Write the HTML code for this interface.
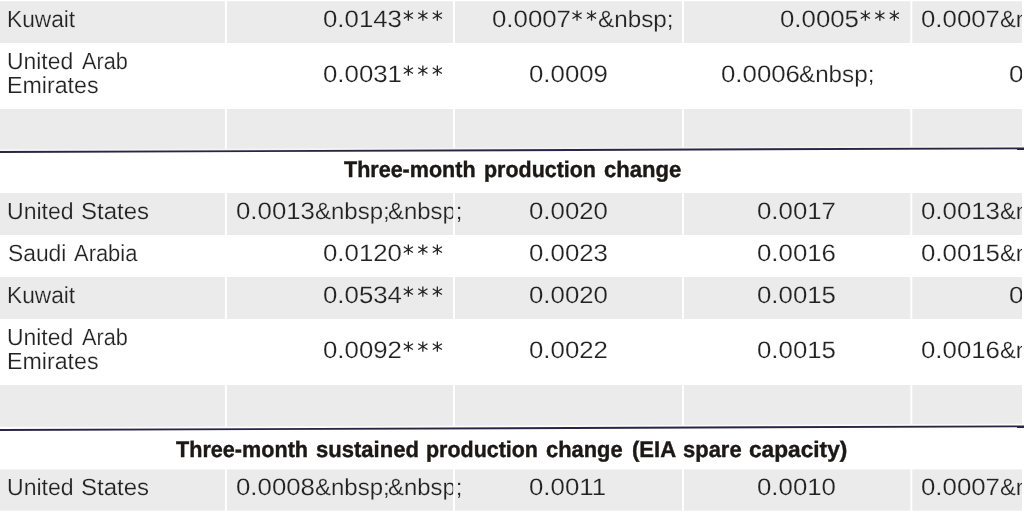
<!DOCTYPE html>
<html><head><meta charset="utf-8"><title>table</title>
<style>
html,body{margin:0;padding:0;background:#fff;}
#c{position:relative;width:1024px;height:512px;overflow:hidden;background:#fff;font-family:"Liberation Sans",sans-serif;}
svg{position:absolute;left:0;top:0;}
.r,.b,.s{position:absolute;white-space:pre;transform-origin:0 0;color:#222222;text-rendering:geometricPrecision;}
.r{font:23.4px/23px "Liberation Sans",sans-serif;}
.d{font-size:23.8px;}
.g{-webkit-text-stroke:0.2px #ebebeb;}
.w{-webkit-text-stroke:0.2px #fff;}
.b{font:bold 22.6px/23px "Liberation Sans",sans-serif;color:#1b1815;-webkit-text-stroke:0.4px #1b1815;}
.s{font:29px/29px "Liberation Sans",sans-serif;}
#clip{position:absolute;left:0;top:0;width:1021.6px;height:512px;overflow:hidden;will-change:transform;}
</style></head><body>
<div id="c">
<svg width="1024" height="512" viewBox="0 0 1024 512">
<rect x="0" y="1.2" width="224.90" height="41.80" fill="#ebebeb"/>
<rect x="226.9" y="1.2" width="226.10" height="41.80" fill="#ebebeb"/>
<rect x="455.0" y="1.2" width="227.00" height="41.80" fill="#ebebeb"/>
<rect x="684.0" y="1.2" width="226.30" height="41.80" fill="#ebebeb"/>
<rect x="912.3" y="1.2" width="109.70" height="41.80" fill="#ebebeb"/>
<rect x="0" y="109.0" width="224.90" height="40.50" fill="#ebebeb"/>
<rect x="226.9" y="109.0" width="226.10" height="40.50" fill="#ebebeb"/>
<rect x="455.0" y="109.0" width="227.00" height="40.50" fill="#ebebeb"/>
<rect x="684.0" y="109.0" width="226.30" height="40.50" fill="#ebebeb"/>
<rect x="912.3" y="109.0" width="109.70" height="40.50" fill="#ebebeb"/>
<rect x="0" y="193.0" width="224.90" height="42.00" fill="#ebebeb"/>
<rect x="226.9" y="193.0" width="226.10" height="42.00" fill="#ebebeb"/>
<rect x="455.0" y="193.0" width="227.00" height="42.00" fill="#ebebeb"/>
<rect x="684.0" y="193.0" width="226.30" height="42.00" fill="#ebebeb"/>
<rect x="912.3" y="193.0" width="109.70" height="42.00" fill="#ebebeb"/>
<rect x="0" y="277.0" width="224.90" height="42.00" fill="#ebebeb"/>
<rect x="226.9" y="277.0" width="226.10" height="42.00" fill="#ebebeb"/>
<rect x="455.0" y="277.0" width="227.00" height="42.00" fill="#ebebeb"/>
<rect x="684.0" y="277.0" width="226.30" height="42.00" fill="#ebebeb"/>
<rect x="912.3" y="277.0" width="109.70" height="42.00" fill="#ebebeb"/>
<rect x="0" y="385.0" width="224.90" height="41.80" fill="#ebebeb"/>
<rect x="226.9" y="385.0" width="226.10" height="41.80" fill="#ebebeb"/>
<rect x="455.0" y="385.0" width="227.00" height="41.80" fill="#ebebeb"/>
<rect x="684.0" y="385.0" width="226.30" height="41.80" fill="#ebebeb"/>
<rect x="912.3" y="385.0" width="109.70" height="41.80" fill="#ebebeb"/>
<rect x="0" y="469.4" width="224.90" height="41.30" fill="#ebebeb"/>
<rect x="226.9" y="469.4" width="226.10" height="41.30" fill="#ebebeb"/>
<rect x="455.0" y="469.4" width="227.00" height="41.30" fill="#ebebeb"/>
<rect x="684.0" y="469.4" width="226.30" height="41.30" fill="#ebebeb"/>
<rect x="912.3" y="469.4" width="109.70" height="41.30" fill="#ebebeb"/>
<line x1="0" y1="150.30" x2="1024" y2="146.63" stroke="#f4f4f4" stroke-width="1.7"/>
<line x1="0" y1="152.05" x2="1024" y2="148.38" stroke="#2b2545" stroke-width="1.9"/>
<line x1="0" y1="428.30" x2="1024" y2="424.58" stroke="#fdfdfd" stroke-width="1.7"/>
<line x1="0" y1="430.05" x2="1024" y2="426.33" stroke="#2b2545" stroke-width="1.9"/>
</svg>
<div id="clip">
<span class="r g" style="left:7.03px;top:8.00px;transform:scaleX(0.9703)">Kuwait</span>
<span class="r w" style="left:7.41px;top:50.00px;transform:scaleX(0.9791)">United</span>
<span class="r w" style="left:81.82px;top:50.00px;transform:scaleX(0.9275)">Arab</span>
<span class="r w" style="left:7.29px;top:74.00px;transform:scaleX(0.9915)">Emirates</span>
<span class="r g" style="left:7.03px;top:284.00px;transform:scaleX(0.9703)">Kuwait</span>
<span class="r w" style="left:7.41px;top:326.00px;transform:scaleX(0.9791)">United</span>
<span class="r w" style="left:81.82px;top:326.00px;transform:scaleX(0.9275)">Arab</span>
<span class="r w" style="left:7.29px;top:350.00px;transform:scaleX(0.9915)">Emirates</span>
<span class="r g" style="left:7.40px;top:200.00px;transform:scaleX(0.9853)">United</span>
<span class="r g" style="left:81.24px;top:200.00px;transform:scaleX(1.0255)">States</span>
<span class="r w" style="left:7.71px;top:242.00px;transform:scaleX(0.9755)">Saudi</span>
<span class="r w" style="left:74.02px;top:242.00px;transform:scaleX(0.9375)">Arabia</span>
<span class="r g" style="left:7.40px;top:476.00px;transform:scaleX(0.9853)">United</span>
<span class="r g" style="left:81.24px;top:476.00px;transform:scaleX(1.0255)">States</span>
<span class="r d g" style="left:322.85px;top:8.00px;transform:scaleX(1.0845)">0.0143</span>
<span class="r d g" style="left:491.70px;top:8.00px;transform:scaleX(1.0845)">0.0007</span>
<span class="r g" style="left:598.20px;top:8.00px;transform:scaleX(1.0364)">&amp;nbsp;</span>
<span class="r d g" style="left:779.90px;top:8.00px;transform:scaleX(1.0845)">0.0005</span>
<span class="r d g" style="left:921.40px;top:8.00px;transform:scaleX(1.0845)">0.0007</span>
<span class="r g" style="left:999.82px;top:8.00px;transform:scaleX(1.0110)">&amp;n</span>
<span class="r d w" style="left:322.85px;top:63.00px;transform:scaleX(1.0845)">0.0031</span>
<span class="r d w" style="left:529.00px;top:63.00px;transform:scaleX(1.0845)">0.0009</span>
<span class="r d w" style="left:720.70px;top:63.00px;transform:scaleX(1.0845)">0.0006</span>
<span class="r w" style="left:799.20px;top:63.00px;transform:scaleX(1.0350)">&amp;nbsp;</span>
<span class="r w" style="left:1008.58px;top:63.00px;transform:scaleX(1.1200)">0</span>
<span class="r d g" style="left:235.80px;top:200.00px;transform:scaleX(1.0845)">0.0013</span>
<span class="r g" style="left:314.51px;top:200.00px;transform:scaleX(1.0264)">&amp;nbsp;</span>
<span class="r g" style="left:388.21px;top:200.00px;transform:scaleX(1.0207)">&amp;nbsp;</span>
<span class="r d g" style="left:529.00px;top:200.00px;transform:scaleX(1.0845)">0.0020</span>
<span class="r d g" style="left:757.40px;top:200.00px;transform:scaleX(1.0845)">0.0017</span>
<span class="r d g" style="left:921.40px;top:200.00px;transform:scaleX(1.0845)">0.0013</span>
<span class="r g" style="left:999.82px;top:200.00px;transform:scaleX(1.0110)">&amp;n</span>
<span class="r d w" style="left:322.85px;top:242.00px;transform:scaleX(1.0845)">0.0120</span>
<span class="r d w" style="left:529.00px;top:242.00px;transform:scaleX(1.0845)">0.0023</span>
<span class="r d w" style="left:757.40px;top:242.00px;transform:scaleX(1.0845)">0.0016</span>
<span class="r d w" style="left:921.40px;top:242.00px;transform:scaleX(1.0845)">0.0015</span>
<span class="r w" style="left:999.82px;top:242.00px;transform:scaleX(1.0110)">&amp;n</span>
<span class="r d g" style="left:322.85px;top:284.00px;transform:scaleX(1.0845)">0.0534</span>
<span class="r d g" style="left:529.00px;top:284.00px;transform:scaleX(1.0845)">0.0020</span>
<span class="r d g" style="left:757.40px;top:284.00px;transform:scaleX(1.0845)">0.0015</span>
<span class="r g" style="left:1008.58px;top:284.00px;transform:scaleX(1.1200)">0</span>
<span class="r d w" style="left:322.85px;top:339.00px;transform:scaleX(1.0845)">0.0092</span>
<span class="r d w" style="left:529.00px;top:339.00px;transform:scaleX(1.0845)">0.0022</span>
<span class="r d w" style="left:757.40px;top:339.00px;transform:scaleX(1.0845)">0.0015</span>
<span class="r d w" style="left:921.40px;top:339.00px;transform:scaleX(1.0845)">0.0016</span>
<span class="r w" style="left:999.82px;top:339.00px;transform:scaleX(1.0110)">&amp;n</span>
<span class="r d g" style="left:235.80px;top:476.00px;transform:scaleX(1.0845)">0.0008</span>
<span class="r g" style="left:314.51px;top:476.00px;transform:scaleX(1.0264)">&amp;nbsp;</span>
<span class="r g" style="left:388.21px;top:476.00px;transform:scaleX(1.0207)">&amp;nbsp;</span>
<span class="r d g" style="left:529.00px;top:476.00px;transform:scaleX(1.0845)">0.0011</span>
<span class="r d g" style="left:757.40px;top:476.00px;transform:scaleX(1.0845)">0.0010</span>
<span class="r d g" style="left:921.40px;top:476.00px;transform:scaleX(1.0845)">0.0007</span>
<span class="r g" style="left:999.82px;top:476.00px;transform:scaleX(1.0110)">&amp;n</span>
<span class="b" style="left:344.13px;top:158.00px;transform:scaleX(0.9528)">Three-month</span>
<span class="b" style="left:483.84px;top:158.00px;transform:scaleX(0.9489)">production</span>
<span class="b" style="left:603.68px;top:158.00px;transform:scaleX(0.9770)">change</span>
<span class="b" style="left:176.03px;top:438.00px;transform:scaleX(0.9565)">Three-month</span>
<span class="b" style="left:316.13px;top:438.00px;transform:scaleX(0.9753)">sustained</span>
<span class="b" style="left:426.34px;top:438.00px;transform:scaleX(0.9489)">production</span>
<span class="b" style="left:546.39px;top:438.00px;transform:scaleX(0.9680)">change</span>
<span class="b" style="left:631.81px;top:438.00px;transform:scaleX(0.9770)">(EIA</span>
<span class="b" style="left:683.13px;top:438.00px;transform:scaleX(0.9720)">spare</span>
<span class="b" style="left:749.37px;top:438.00px;transform:scaleX(1.0035)">capacity)</span>
<svg width="1024" height="512" viewBox="0 0 1024 512">
<path d="M408.35 10.50V20.80M403.75 12.75L412.95 18.55M403.75 18.55L412.95 12.75" stroke="#262626" stroke-width="1.3" fill="none"/>
<path d="M422.85 10.50V20.80M418.25 12.75L427.45 18.55M418.25 18.55L427.45 12.75" stroke="#262626" stroke-width="1.3" fill="none"/>
<path d="M437.35 10.50V20.80M432.75 12.75L441.95 18.55M432.75 18.55L441.95 12.75" stroke="#262626" stroke-width="1.3" fill="none"/>
<path d="M577.05 10.50V20.80M572.45 12.75L581.65 18.55M572.45 18.55L581.65 12.75" stroke="#262626" stroke-width="1.3" fill="none"/>
<path d="M591.55 10.50V20.80M586.95 12.75L596.15 18.55M586.95 18.55L596.15 12.75" stroke="#262626" stroke-width="1.3" fill="none"/>
<path d="M865.35 10.50V20.80M860.75 12.75L869.95 18.55M860.75 18.55L869.95 12.75" stroke="#262626" stroke-width="1.3" fill="none"/>
<path d="M879.85 10.50V20.80M875.25 12.75L884.45 18.55M875.25 18.55L884.45 12.75" stroke="#262626" stroke-width="1.3" fill="none"/>
<path d="M894.35 10.50V20.80M889.75 12.75L898.95 18.55M889.75 18.55L898.95 12.75" stroke="#262626" stroke-width="1.3" fill="none"/>
<path d="M408.35 65.50V75.80M403.75 67.75L412.95 73.55M403.75 73.55L412.95 67.75" stroke="#262626" stroke-width="1.3" fill="none"/>
<path d="M422.85 65.50V75.80M418.25 67.75L427.45 73.55M418.25 73.55L427.45 67.75" stroke="#262626" stroke-width="1.3" fill="none"/>
<path d="M437.35 65.50V75.80M432.75 67.75L441.95 73.55M432.75 73.55L441.95 67.75" stroke="#262626" stroke-width="1.3" fill="none"/>
<path d="M408.35 244.50V254.80M403.75 246.75L412.95 252.55M403.75 252.55L412.95 246.75" stroke="#262626" stroke-width="1.3" fill="none"/>
<path d="M422.85 244.50V254.80M418.25 246.75L427.45 252.55M418.25 252.55L427.45 246.75" stroke="#262626" stroke-width="1.3" fill="none"/>
<path d="M437.35 244.50V254.80M432.75 246.75L441.95 252.55M432.75 252.55L441.95 246.75" stroke="#262626" stroke-width="1.3" fill="none"/>
<path d="M408.35 286.50V296.80M403.75 288.75L412.95 294.55M403.75 294.55L412.95 288.75" stroke="#262626" stroke-width="1.3" fill="none"/>
<path d="M422.85 286.50V296.80M418.25 288.75L427.45 294.55M418.25 294.55L427.45 288.75" stroke="#262626" stroke-width="1.3" fill="none"/>
<path d="M437.35 286.50V296.80M432.75 288.75L441.95 294.55M432.75 294.55L441.95 288.75" stroke="#262626" stroke-width="1.3" fill="none"/>
<path d="M408.35 341.50V351.80M403.75 343.75L412.95 349.55M403.75 349.55L412.95 343.75" stroke="#262626" stroke-width="1.3" fill="none"/>
<path d="M422.85 341.50V351.80M418.25 343.75L427.45 349.55M418.25 349.55L427.45 343.75" stroke="#262626" stroke-width="1.3" fill="none"/>
<path d="M437.35 341.50V351.80M432.75 343.75L441.95 349.55M432.75 349.55L441.95 343.75" stroke="#262626" stroke-width="1.3" fill="none"/>
</svg>
</div>
<svg width="1024" height="512" viewBox="0 0 1024 512">
<rect x="453.0" y="193.0" width="2" height="42.00" fill="#fff" fill-opacity="0.85"/>
<rect x="453.0" y="469.4" width="2" height="41.30" fill="#fff" fill-opacity="0.85"/>
</svg>
</div>
</body></html>
